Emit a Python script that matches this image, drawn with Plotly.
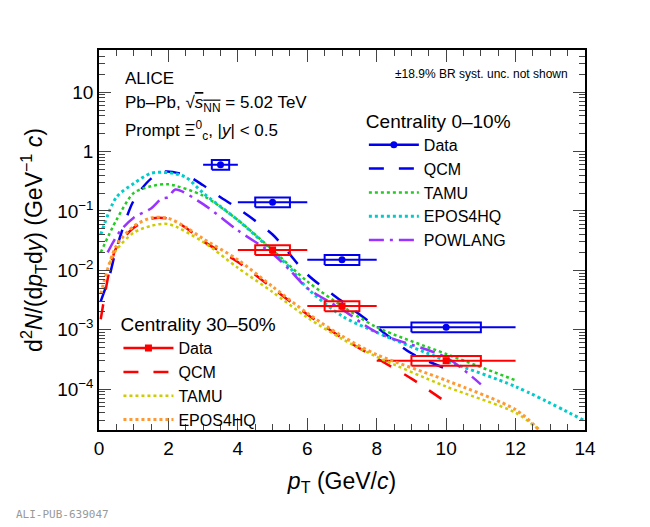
import plotly.graph_objects as go
import numpy as np

pt_c = [3.5, 5, 7, 10]; pt_lo = [3, 4, 6, 8]; pt_hi = [4, 6, 8, 12]
syst_w = [0.25, 0.5, 0.5, 1.0]
y_010 = [0.6, 0.14, 0.015, 0.0011]
pt_p = [5, 7, 10]; p_lo = [4, 6, 8]; p_hi = [6, 8, 12]; syst_wp = [0.5, 0.5, 1.0]
y_3050 = [0.022, 0.0025, 0.0003]

qcm_x = [0.05,0.3,0.5,1,1.5,1.9,2.5,3,3.5,4,5,6,7,8,9,10]
qcm_0 = [0.003,0.008,0.023,0.15,0.35,0.46,0.4,0.27,0.17,0.11,0.04,0.0085,0.003,0.0011,0.0004,0.00022]
qcm_x3 = [0.05,0.3,0.5,1,1.5,2,2.5,3,4,5,6,7,8,9,10]
qcm_3 = [0.0015,0.0098,0.024,0.052,0.074,0.074,0.052,0.031,0.0138,0.005,0.0018,0.00073,0.00033,0.00015,0.00006]
tamu_x = [0.05,0.5,1,1.5,2,3,4,5,6,7,8,10,12]
tamu_0 = [0.02,0.07,0.2,0.26,0.28,0.18,0.07,0.022,0.0065,0.0025,0.0011,0.00039,0.00014]
tamu_x3 = [0.3,0.5,1,1.5,2,3,4,5,6,7,8,10,12,12.7]
tamu_3 = [0.013,0.022,0.043,0.056,0.06,0.03,0.011,0.0043,0.0016,0.0007,0.00035,0.00011,0.00004,0.00002]
epos_x = [0.05,0.5,1,1.5,2,2.5,3,4,5,5.5,6,7,8,10,12,14]
epos_0 = [0.04,0.17,0.29,0.43,0.44,0.37,0.2,0.07,0.021,0.011,0.005,0.0017,0.0009,0.0003,0.00011,0.000029]
epos_x3 = [0.05,0.5,1,1.5,2,2.5,3,4,5,6,7,8,10,12,12.7]
epos_3 = [0.004,0.026,0.055,0.076,0.075,0.053,0.034,0.015,0.0053,0.0019,0.00078,0.00038,0.00014,0.000045,0.00002]
pow_x = [0.25,0.6,1,1.5,1.8,2.0,2.2,3,4,5,5.5,6,7,8,10,11]
pow_0 = [0.02,0.045,0.077,0.11,0.16,0.17,0.23,0.13,0.047,0.019,0.01,0.005,0.0022,0.0009,0.00034,0.00012]

fig = go.Figure()
BLUE = "#0000ee"; RED = "#ff0000"
def line(x, y, color, dash, name, legend, width=2.5):
    fig.add_trace(go.Scatter(x=x, y=y, mode="lines", line=dict(color=color, dash=dash, width=width, shape="spline", smoothing=0.8),
                             name=name, legend=legend))

def data(xs, ys, lo, hi, ws, color, symbol, legend):
    bx, by = [], []
    for x, y, w in zip(xs, ys, ws):
        bx += [x-w, x+w, x+w, x-w, x-w, None]
        by += [y*0.82, y*0.82, y*1.2, y*1.2, y*0.82, None]
    fig.add_trace(go.Scatter(x=bx, y=by, mode="lines", line=dict(color=color, width=2), showlegend=False, hoverinfo="skip"))
    fig.add_trace(go.Scatter(x=xs, y=ys, mode="markers", marker=dict(color=color, size=7, symbol=symbol),
        error_x=dict(type="data", symmetric=False, array=[h-c for h,c in zip(hi,xs)], arrayminus=[c-l for l,c in zip(lo,xs)], color=color, thickness=2, width=0),
        error_y=dict(type="percent", value=6, color=color, thickness=2, width=0), showlegend=False))
    fig.add_trace(go.Scatter(x=[None], y=[None], mode="lines+markers", line=dict(color=color, width=2.5),
                             marker=dict(color=color, size=7, symbol=symbol), name="Data", legend=legend))

data(pt_c, y_010, pt_lo, pt_hi, syst_w, BLUE, "circle", "legend")
line(qcm_x, qcm_0, BLUE, "longdash", "QCM", "legend")
line(tamu_x, tamu_0, "#22cc22", "dot", "TAMU", "legend")
line(epos_x, epos_0, "#00cccc", "dot", "EPOS4HQ", "legend", 3)
line(pow_x, pow_0, "#9933ff", "longdashdot", "POWLANG", "legend")
data(pt_p, y_3050, p_lo, p_hi, syst_wp, RED, "square", "legend2")
line(qcm_x3, qcm_3, RED, "longdash", "QCM", "legend2")
line(tamu_x3, tamu_3, "#cccc00", "dot", "TAMU", "legend2")
line(epos_x3, epos_3, "#ff9933", "dot", "EPOS4HQ", "legend2", 3)

fig.update_layout(
    width=650, height=527, plot_bgcolor="white", paper_bgcolor="white",
    margin=dict(l=91, r=73, t=42, b=105),
    font=dict(family="Liberation Sans", size=16, color="black"),
    legend=dict(x=0.545, y=0.86, xanchor="left", yanchor="top", bgcolor="rgba(0,0,0,0)", font=dict(size=16),
                title=dict(text="Centrality 0–10%"), tracegroupgap=0, itemwidth=50),
    legend2=dict(x=0.04, y=0.325, xanchor="left", yanchor="top", bgcolor="rgba(0,0,0,0)", font=dict(size=16),
                 title=dict(text="Centrality 30–50%"), tracegroupgap=0, itemwidth=50),
)
fig.update_xaxes(range=[0, 14], dtick=2, ticks="inside", ticklen=12, mirror="ticks", showline=True, linecolor="black",
                 linewidth=1.5, showgrid=False, zeroline=False, minor=dict(ticks="inside", ticklen=6, dtick=0.5),
                 title=dict(text="<i>p</i><sub>T</sub> (GeV/<i>c</i>)", font=dict(size=23)), tickfont=dict(size=19))
fig.update_yaxes(type="log", range=[-4.69, 1.71], ticks="inside", ticklen=12, mirror="ticks", showline=True, linecolor="black",
                 linewidth=1.5, showgrid=False, zeroline=False,
                 tickvals=[1e-4,1e-3,1e-2,1e-1,1,10], ticktext=["10<sup>−4</sup>","10<sup>−3</sup>","10<sup>−2</sup>","10<sup>−1</sup>","1","10"],
                 minor=dict(ticks="inside", ticklen=6, dtick="D1"),
                 title=dict(text="d<sup>2</sup><i>N</i>/(d<i>p</i><sub>T</sub>d<i>y</i>) (GeV<sup>−1</sup> <i>c</i>)", font=dict(size=23), standoff=8),
                 tickfont=dict(size=19))
anns = [
    (0.05, 0.926, "ALICE", 17),
    (0.05, 0.858, "Pb–Pb, √<span style='text-decoration:overline'><i>s</i><sub>NN</sub></span> = 5.02 TeV", 17),
    (0.05, 0.787, "Prompt Ξ<sup>0</sup><sub>c</sub>, |<i>y</i>| < 0.5", 17),
    (0.97, 0.937, "±18.9% BR syst. unc. not shown", 12),
]
for x, y, t, s in anns:
    fig.add_annotation(x=x, y=y, xref="paper", yref="paper", text=t, showarrow=False,
                       xanchor="left" if x < 0.5 else "right", yanchor="middle", font=dict(size=s))
fig.add_annotation(x=-0.175, y=-0.245, xref="paper", yref="paper", text="ALI-PUB-639047", showarrow=False,
                   xanchor="left", yanchor="bottom", font=dict(size=11, color="#999999", family="DejaVu Sans Mono"))
fig.write_html("out.html")
